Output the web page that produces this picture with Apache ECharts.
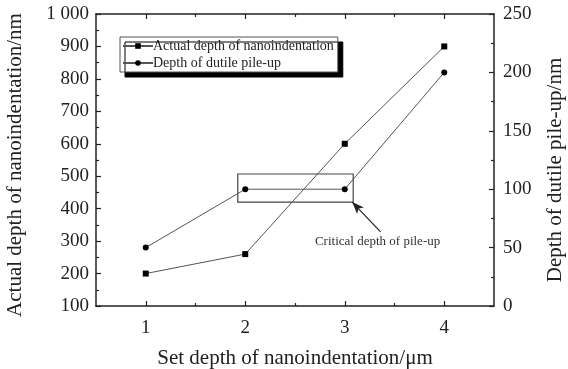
<!DOCTYPE html>
<html><head><meta charset="utf-8">
<script src="https://cdn.jsdelivr.net/npm/echarts@6/dist/echarts.min.js"></script>
<style>html,body{margin:0;padding:0;background:#fff}#c{width:568px;height:369px}</style>
</head><body><div id="c"></div>
<script>
const setDepth = [1, 2, 3, 4];
const actualDepth = [200, 260, 600, 900];
const pileUpDepth = [50, 100, 100, 200];
const leftTicks = [100, 200, 300, 400, 500, 600, 700, 800, 900, 1000];
const leftTickLabels = ['100', '200', '300', '400', '500', '600', '700', '800', '900', '1 000'];
const rightTicks = [0, 50, 100, 150, 200, 250];
const xMajor = [1, 2, 3, 4];
const xMinor = [1.5, 2.5, 3.5];
const criticalBox = { x: [1.925, 3.085], y: [89, 113] };
const arrowFrom = [3.36, 63.5];
const arrowTo = [3.075, 89];
const noteAt = [3.33, 55];
const noteText = 'Critical depth of pile-up';

const FONT = '"Liberation Serif", "Times New Roman", serif';
const TXT = '#222';
const AX = '#222';

const chart = echarts.init(document.getElementById('c'), null, {renderer: 'canvas'});

function xAx(pos, ticks, len, showLabel, showLine, extra) {
  return Object.assign({
    type: 'value', position: pos, min: 0.5, max: 4.5,
    axisLine: { show: showLine, onZero: false, lineStyle: { color: AX, width: 1.5 } },
    axisTick: { show: true, inside: true, length: len, customValues: ticks, lineStyle: { color: AX, width: 1.2 } },
    axisLabel: { show: showLabel, customValues: xMajor, margin: 13, fontFamily: FONT, fontSize: 19, color: TXT },
    splitLine: { show: false }
  }, extra || {});
}

const option = {
  animation: false,
  backgroundColor: '#fff',
  grid: { left: 96, right: 74, top: 14, bottom: 63, containLabel: false, outerBoundsMode: 'none' },
  legend: {
    orient: 'vertical', left: 120, top: 37,
    padding: [2, 4, 2, 2], itemGap: 3, itemWidth: 30, itemHeight: 7,
    backgroundColor: '#fff', borderColor: '#555', borderWidth: 1,
    shadowColor: '#000', shadowBlur: 0, shadowOffsetX: 5, shadowOffsetY: 5,
    textStyle: { fontFamily: FONT, fontSize: 14, color: TXT, padding: [0, 0, 0, -5] }
  },
  xAxis: [
    xAx('bottom', xMajor, 5, true, true, {
      name: 'Set depth of nanoindentation/\u03bcm', nameLocation: 'middle', nameGap: 42,
      nameTextStyle: { fontFamily: FONT, fontSize: 21, color: TXT }
    }),
    xAx('bottom', xMinor, 3, false, false),
    xAx('top', xMajor, 5, false, true),
    xAx('top', xMinor, 3, false, false)
  ],
  yAxis: [
    {
      type: 'value', position: 'left', min: 100, max: 1000, interval: 100,
      name: 'Actual depth of nanoindentation/nm', nameLocation: 'middle', nameGap: 70,
      nameTextStyle: { fontFamily: FONT, fontSize: 21, color: TXT, padding: [0, 10, 0, 0] },
      axisLine: { show: true, onZero: false, lineStyle: { color: AX, width: 1.5 } },
      axisTick: { inside: true, length: 5, lineStyle: { color: AX, width: 1.2 } },
      minorTick: { show: true, splitNumber: 2, length: 3, lineStyle: { color: AX, width: 1.2 } },
      axisLabel: { margin: 7, fontFamily: FONT, fontSize: 19, color: TXT,
        formatter: v => { const i = leftTicks.indexOf(v); return i >= 0 ? leftTickLabels[i] : ''; } },
      splitLine: { show: false }
    },
    {
      type: 'value', position: 'right', min: 0, max: 250, interval: 50,
      name: 'Depth of dutile pile-up/nm', nameLocation: 'middle', nameGap: 51,
      nameTextStyle: { fontFamily: FONT, fontSize: 21, color: TXT, padding: [0, 20, 0, 0] },
      axisLine: { show: true, onZero: false, lineStyle: { color: AX, width: 1.5 } },
      axisTick: { inside: true, length: 5, lineStyle: { color: AX, width: 1.2 } },
      minorTick: { show: true, splitNumber: 2, length: 3, lineStyle: { color: AX, width: 1.2 } },
      axisLabel: { margin: 9, fontFamily: FONT, fontSize: 19, color: TXT,
        formatter: v => rightTicks.indexOf(v) >= 0 ? String(v) : '' },
      splitLine: { show: false }
    }
  ],
  series: [
    {
      name: 'Actual depth of nanoindentation', type: 'line', xAxisIndex: 0, yAxisIndex: 0,
      data: setDepth.map((x, i) => [x, actualDepth[i]]),
      symbol: 'rect', symbolSize: 6, showSymbol: true,
      lineStyle: { color: '#555', width: 1 }, itemStyle: { color: '#000' }
    },
    {
      name: 'Depth of dutile pile-up', type: 'line', xAxisIndex: 0, yAxisIndex: 1,
      data: setDepth.map((x, i) => [x, pileUpDepth[i]]),
      symbol: 'circle', symbolSize: 6, showSymbol: true,
      lineStyle: { color: '#555', width: 1 }, itemStyle: { color: '#000' },
      markArea: {
        silent: true,
        itemStyle: { color: 'rgba(0,0,0,0)', borderColor: '#444', borderWidth: 1.2 },
        data: [[{ coord: [criticalBox.x[0], criticalBox.y[0]] }, { coord: [criticalBox.x[1], criticalBox.y[1]] }]]
      },
      markLine: {
        silent: true, symbol: ['none', 'arrow'], symbolSize: [7, 12],
        lineStyle: { color: '#222', width: 1.2, type: 'solid' }, label: { show: false },
        data: [[{ coord: arrowFrom }, { coord: arrowTo }]]
      },
      markPoint: {
        silent: true, symbol: 'rect', symbolSize: 1,
        itemStyle: { color: 'rgba(0,0,0,0)' },
        label: { show: true, position: 'inside', formatter: noteText, fontFamily: FONT, fontSize: 13, color: '#333' },
        data: [{ coord: noteAt }]
      }
    }
  ]
};
chart.setOption(option);
</script>
</body></html>
